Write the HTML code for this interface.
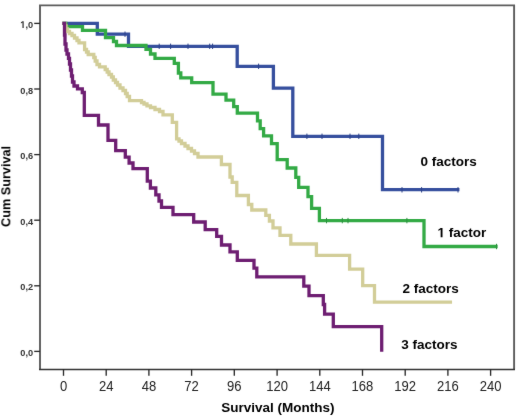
<!DOCTYPE html>
<html><head><meta charset="utf-8"><style>
html,body{margin:0;padding:0;background:#fff;}
body{width:520px;height:418px;overflow:hidden;}
svg{display:block;}
text{font-family:"Liberation Sans",sans-serif;fill:#222;}
.xl{font-size:14.5px;}
.yl{font-size:9.8px;font-weight:bold;fill:#333;}
.lb{font-size:13.5px;font-weight:bold;fill:#000;}
</style></head><body>
<svg width="520" height="418" viewBox="0 0 520 418">
<defs><filter id="bl" x="0" y="0" width="520" height="418" filterUnits="userSpaceOnUse" color-interpolation-filters="sRGB"><feConvolveMatrix order="3" kernelMatrix="0.008 0.05 0.008 0.05 0.768 0.05 0.008 0.05 0.008" edgeMode="duplicate"/></filter></defs>
<g filter="url(#bl)">
<rect x="0" y="0" width="520" height="418" fill="#fff"/>
<path d="M40 369.4V5.4H514.1V369.4" fill="none" stroke="#5c5c5c" stroke-width="1.9"/>
<line x1="39" y1="369.4" x2="515" y2="369.4" stroke="#333" stroke-width="1.5"/>
<line x1="63.5" y1="369" x2="63.5" y2="375.8" stroke="#2a2a2a" stroke-width="1.35"/><text transform="translate(63.5,390.6) scale(0.9,1)" text-anchor="middle" class="xl">0</text><line x1="106.2" y1="369" x2="106.2" y2="375.8" stroke="#2a2a2a" stroke-width="1.35"/><text transform="translate(106.2,390.6) scale(0.9,1)" text-anchor="middle" class="xl">24</text><line x1="148.9" y1="369" x2="148.9" y2="375.8" stroke="#2a2a2a" stroke-width="1.35"/><text transform="translate(148.9,390.6) scale(0.9,1)" text-anchor="middle" class="xl">48</text><line x1="191.6" y1="369" x2="191.6" y2="375.8" stroke="#2a2a2a" stroke-width="1.35"/><text transform="translate(191.6,390.6) scale(0.9,1)" text-anchor="middle" class="xl">72</text><line x1="234.3" y1="369" x2="234.3" y2="375.8" stroke="#2a2a2a" stroke-width="1.35"/><text transform="translate(234.3,390.6) scale(0.9,1)" text-anchor="middle" class="xl">96</text><line x1="277.1" y1="369" x2="277.1" y2="375.8" stroke="#2a2a2a" stroke-width="1.35"/><text transform="translate(277.1,390.6) scale(0.9,1)" text-anchor="middle" class="xl">120</text><line x1="319.8" y1="369" x2="319.8" y2="375.8" stroke="#2a2a2a" stroke-width="1.35"/><text transform="translate(319.8,390.6) scale(0.9,1)" text-anchor="middle" class="xl">144</text><line x1="362.5" y1="369" x2="362.5" y2="375.8" stroke="#2a2a2a" stroke-width="1.35"/><text transform="translate(362.5,390.6) scale(0.9,1)" text-anchor="middle" class="xl">168</text><line x1="405.2" y1="369" x2="405.2" y2="375.8" stroke="#2a2a2a" stroke-width="1.35"/><text transform="translate(405.2,390.6) scale(0.9,1)" text-anchor="middle" class="xl">192</text><line x1="447.9" y1="369" x2="447.9" y2="375.8" stroke="#2a2a2a" stroke-width="1.35"/><text transform="translate(447.9,390.6) scale(0.9,1)" text-anchor="middle" class="xl">216</text><line x1="490.6" y1="369" x2="490.6" y2="375.8" stroke="#2a2a2a" stroke-width="1.35"/><text transform="translate(490.6,390.6) scale(0.9,1)" text-anchor="middle" class="xl">240</text><line x1="34.2" y1="23.4" x2="40" y2="23.4" stroke="#2a2a2a" stroke-width="1.35"/><path transform="translate(20.29,28.0) scale(0.004498,-0.004785)" d="M478 0V1170L140 959V1180L493 1409H759V0Z" fill="#333"/><text transform="translate(33.1,28.0) scale(0.94,1)" text-anchor="end" class="yl">,0</text><line x1="34.2" y1="89.0" x2="40" y2="89.0" stroke="#2a2a2a" stroke-width="1.35"/><text transform="translate(33.1,93.6) scale(0.94,1)" text-anchor="end" class="yl">0,8</text><line x1="34.2" y1="154.6" x2="40" y2="154.6" stroke="#2a2a2a" stroke-width="1.35"/><text transform="translate(33.1,159.2) scale(0.94,1)" text-anchor="end" class="yl">0,6</text><line x1="34.2" y1="220.2" x2="40" y2="220.2" stroke="#2a2a2a" stroke-width="1.35"/><text transform="translate(33.1,224.8) scale(0.94,1)" text-anchor="end" class="yl">0,4</text><line x1="34.2" y1="285.8" x2="40" y2="285.8" stroke="#2a2a2a" stroke-width="1.35"/><text transform="translate(33.1,290.4) scale(0.94,1)" text-anchor="end" class="yl">0,2</text><line x1="34.2" y1="351.4" x2="40" y2="351.4" stroke="#2a2a2a" stroke-width="1.35"/><text transform="translate(33.1,356.0) scale(0.94,1)" text-anchor="end" class="yl">0,0</text>
<g fill="none" stroke-width="3.3" stroke-linejoin="miter" stroke-linecap="square">
<path d="M64 23.3H97.3V34.2H128.5V46.3H237.2V66.3H273.4V88.1H292.8V136.3H382.5V189.7H457.8" stroke="#364f9e"/>
<line x1="125" y1="32.0" x2="125" y2="36.400000000000006" stroke="#2b4088" stroke-width="1"/><line x1="159.2" y1="44.099999999999994" x2="159.2" y2="48.5" stroke="#2b4088" stroke-width="1"/><line x1="170.6" y1="44.099999999999994" x2="170.6" y2="48.5" stroke="#2b4088" stroke-width="1"/><line x1="188" y1="44.099999999999994" x2="188" y2="48.5" stroke="#2b4088" stroke-width="1"/><line x1="209.7" y1="44.099999999999994" x2="209.7" y2="48.5" stroke="#2b4088" stroke-width="1"/><line x1="212.6" y1="44.099999999999994" x2="212.6" y2="48.5" stroke="#2b4088" stroke-width="1"/><line x1="258.6" y1="64.1" x2="258.6" y2="68.5" stroke="#2b4088" stroke-width="1"/><line x1="306.9" y1="134.10000000000002" x2="306.9" y2="138.5" stroke="#2b4088" stroke-width="1"/><line x1="322" y1="134.10000000000002" x2="322" y2="138.5" stroke="#2b4088" stroke-width="1"/><line x1="350" y1="134.10000000000002" x2="350" y2="138.5" stroke="#2b4088" stroke-width="1"/><line x1="358.8" y1="134.10000000000002" x2="358.8" y2="138.5" stroke="#2b4088" stroke-width="1"/><line x1="402" y1="187.60000000000002" x2="402" y2="192.0" stroke="#2b4088" stroke-width="1"/><line x1="421.6" y1="187.60000000000002" x2="421.6" y2="192.0" stroke="#2b4088" stroke-width="1"/><line x1="458" y1="187.60000000000002" x2="458" y2="192.0" stroke="#2b4088" stroke-width="1"/>
<path d="M64 23.3H66V26.6H82.5V30.3H105.5V37.6H113.5V41.5H116.5V45.5H146V49.4H150.5V54H155V58.3H174.3V63.4H178.4V73H180.8V77.9H191.7V82.7H213V94.1H226V100.1H233.7V106.7H237.3V113.1H257.5V120.9H260.2V128.6H263.6V135.8H271.5V143.7H277.2V159.7H287.2V168H295.8V177.3H298.7V187.3H308V196.6H311.6V208.4H319.4V220.6H424V246.5H496" stroke="#33aa45"/>
<line x1="326.5" y1="218.4" x2="326.5" y2="222.79999999999998" stroke="#2a8f3c" stroke-width="1"/><line x1="342.3" y1="218.4" x2="342.3" y2="222.79999999999998" stroke="#2a8f3c" stroke-width="1"/><line x1="348" y1="218.4" x2="348" y2="222.79999999999998" stroke="#2a8f3c" stroke-width="1"/><line x1="406.9" y1="218.4" x2="406.9" y2="222.79999999999998" stroke="#2a8f3c" stroke-width="1"/><line x1="496.5" y1="244.3" x2="496.5" y2="248.7" stroke="#2a8f3c" stroke-width="1"/>
<path d="M64 23.3H64.8V26H66V29H67.5V31.5H69.5V33.5H72V35.5H74.5V38H77V40.5H79V42.8H84.6V49.5H86.5V52H88.2V54.5H93.8V57.5H95.2V61H97V64.5H99.5V66.8H105.2V69.5H107.2V72H109V74.5H111.5V77H113.3V80H115.5V82.5H117.5V85H120V88H123V90.5H125.5V93.5H127.2V96.5H129.5V100.6H141.5V102.5H144V104H147V105.8H150.5V107.5H155V109.5H159.5V111.5H163V114.8H172.3V122.3H176.6V138.8H179V141H181.5V143.5H185V146H188V148.5H191.5V151H194.5V153.5H198V157H221.4V164.5H230V177H232.2V182.4H236.8V195.5H248.4V204.5H251.8V210H265.8V215.3H269.4V221H273V227.8H280V235.4H290.8V244H316.4V255.3H349.6V269.2H362.7V285.6H374.5V302.1H450.4" stroke="#d2cd98"/>
<path d="M64 23.3H64.5V35H65V44H66V50H67V54H68.5V58.3H69.5V64H70.5V70H71.5V76H72.5V82H74V86H77.5V88.8H82.3V92.5H84.3V115.4H98.5V125H108V140.3H115.7V150.6H125.3V157.2H129.1V163H133V168.7H147.3V181.1H150.4V188H155.8V194.8H159V201H161.5V207.3H173V214.6H193.7V222H205.2V229.7H216.7V236.4H221.5V245H230V251.9H237.3V260.4H254V268.2H256.8V276.8H303.8V286.1H309V295.6H323.3V304.5H324.6V314.1H333.3V326.6H381.7V350" stroke="#6e1e72"/>
</g>
<text x="420.4" y="165.7" class="lb">0 factors</text>
<path transform="translate(437.5,237.3) scale(0.006592,-0.006592)" d="M478 0V1170L140 959V1180L493 1409H759V0Z" fill="#000"/><text x="448.76" y="237.3" class="lb">factor</text>
<text x="402.6" y="293.3" class="lb">2 factors</text>
<text x="401.3" y="348.8" class="lb">3 factors</text>
<text x="221.3" y="412.2" class="lb">Survival (Months)</text>
<text transform="translate(10.3,227) rotate(-90)" class="lb" style="font-size:12.7px">Cum Survival</text>
</g>
</svg>
</body></html>
